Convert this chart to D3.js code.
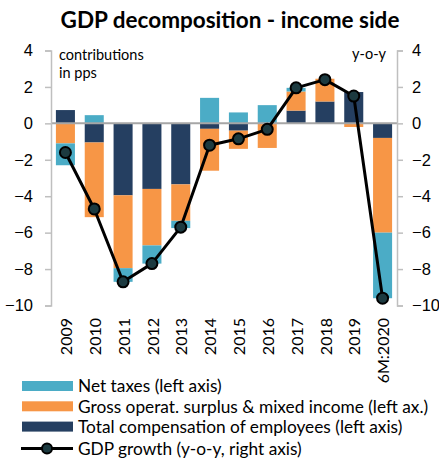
<!DOCTYPE html>
<html><head><meta charset="utf-8">
<script src="https://cdn.jsdelivr.net/npm/d3@7"></script>
<style>
html,body{margin:0;padding:0;background:#fff;}
svg{display:block;font-family:Lato,"Open Sans",sans-serif;}
</style></head>
<body>
<svg id="c" width="439" height="459"></svg>
<script>
const categories = ["2009","2010","2011","2012","2013","2014","2015","2016","2017","2018","2019","6M:2020"];
const compensation = [0.73,-1.05,-3.95,-3.6,-3.35,-0.3,-0.4,0,0.7,1.2,1.72,-0.8];
const grossSurplus = [-1.1,-4.1,-4.0,-3.1,-2.0,-2.3,-1.0,-1.35,1.05,1.25,-0.2,-5.2];
const netTaxes = [-1.2,0.45,-0.75,-1.0,-0.4,1.4,0.6,1.0,0.2,0.0,0.0,-3.6];
const gdpGrowth = [-1.6,-4.7,-8.7,-7.7,-5.7,-1.2,-0.85,-0.33,1.95,2.4,1.5,-9.6];
const yTicks = [4,2,0,-2,-4,-6,-8,-10];
const seriesNames = ["Total compensation of employees (left axis)","Gross operat. surplus & mixed income (left ax.)","Net taxes (left axis)"];
const lineName = "GDP growth (y-o-y, right axis)";
const colors = {comp:"#253f61", gross:"#f79646", net:"#4bacc6"};

const svg = d3.select("#c");
const L = 51, R = 397, T = 50.5, B = 305.5;
const x = d3.scaleBand().domain(categories).range([L,R]).paddingInner(0.34).paddingOuter(0.17);
const y = d3.scaleLinear().domain([-10,4]).range([B,T]);

// title
svg.append("text").attr("x",230).attr("y",28).attr("text-anchor","middle")
  .attr("font-weight","bold").attr("font-size",22.5).attr("fill","#000")
  .text("GDP decomposition - income side");

// stacked data
const rows = categories.map((c,i)=>({cat:c, comp:compensation[i], gross:grossSurplus[i], net:netTaxes[i]}));
const keys = ["comp","gross","net"];
const stack = d3.stack().keys(keys).offset(d3.stackOffsetDiverging)(rows);

svg.append("g").selectAll("g").data(stack).join("g")
  .attr("fill",d=>colors[d.key])
  .selectAll("rect").data(d=>d).join("rect")
  .attr("x",d=>x(d.data.cat)).attr("width",x.bandwidth())
  .attr("y",d=>y(Math.max(d[0],d[1])))
  .attr("height",d=>Math.abs(y(d[0])-y(d[1])));

// zero line
svg.append("line").attr("x1",L).attr("x2",R).attr("y1",y(0)).attr("y2",y(0))
  .attr("stroke","#a6a6a6").attr("stroke-width",2);

// axes
function styleAxis(g){
  g.select(".domain").attr("stroke","#bfbfbf").attr("stroke-width",1.5);
  g.selectAll(".tick line").attr("stroke","#bfbfbf").attr("stroke-width",1.5);
  g.selectAll(".tick text").attr("font-size",16.5).attr("fill","#000");
}
const leftAxis = d3.axisLeft(y).tickValues(yTicks).tickSize(6).tickSizeOuter(6).tickPadding(12).tickFormat(d3.format("d"));
const rightAxis = d3.axisRight(y).tickValues(yTicks).tickSize(6).tickSizeOuter(6).tickPadding(9).tickFormat(d3.format("d"));
svg.append("g").attr("transform",`translate(${L},0)`).call(leftAxis).call(styleAxis);
svg.append("g").attr("transform",`translate(${R},0)`).call(rightAxis).call(styleAxis);

// x labels
svg.append("g").selectAll("text").data(categories).join("text")
  .attr("transform",d=>`translate(${x(d)+x.bandwidth()/2+1},318) rotate(-90)`)
  .attr("text-anchor","end").attr("dy","0.35em").attr("font-size",16).attr("fill","#000")
  .text(d=>d);

// annotations
svg.append("text").attr("x",59).attr("y",60).attr("font-size",14.5).text("contributions");
svg.append("text").attr("x",59).attr("y",78).attr("font-size",14.5).text("in pps");
svg.append("text").attr("x",386).attr("y",59).attr("text-anchor","end").attr("font-size",14.5).text("y-o-y");

// GDP line
const line = d3.line().x((d,i)=>x(categories[i])+x.bandwidth()/2).y(d=>y(d));
svg.append("path").datum(gdpGrowth).attr("d",line).attr("fill","none")
  .attr("stroke","#000").attr("stroke-width",3).attr("stroke-linejoin","round");
svg.append("g").selectAll("circle").data(gdpGrowth).join("circle")
  .attr("cx",(d,i)=>x(categories[i])+x.bandwidth()/2).attr("cy",d=>y(d)).attr("r",5.5)
  .attr("fill","#1c3a40").attr("stroke","#000").attr("stroke-width",2);

// legend
const leg = svg.append("g");
const legItems = [
  {name:seriesNames[2], color:colors.net},
  {name:seriesNames[1], color:colors.gross},
  {name:seriesNames[0], color:colors.comp}
];
legItems.forEach((it,i)=>{
  const cy = 386 + i*20.3;
  leg.append("rect").attr("x",22).attr("y",cy-5).attr("width",51).attr("height",10).attr("fill",it.color);
  leg.append("text").attr("x",78).attr("y",cy).attr("dy","0.36em").attr("font-size",17.3).text(it.name);
});
const ly = 386 + 3*20.3 + 1.5;
leg.append("line").attr("x1",21).attr("x2",73).attr("y1",ly).attr("y2",ly).attr("stroke","#000").attr("stroke-width",3);
leg.append("circle").attr("cx",47).attr("cy",ly).attr("r",5).attr("fill","#1c3a40").attr("stroke","#000").attr("stroke-width",2);
leg.append("text").attr("x",78).attr("y",ly).attr("dy","0.36em").attr("font-size",17.3).text(lineName);
</script>
</body></html>
